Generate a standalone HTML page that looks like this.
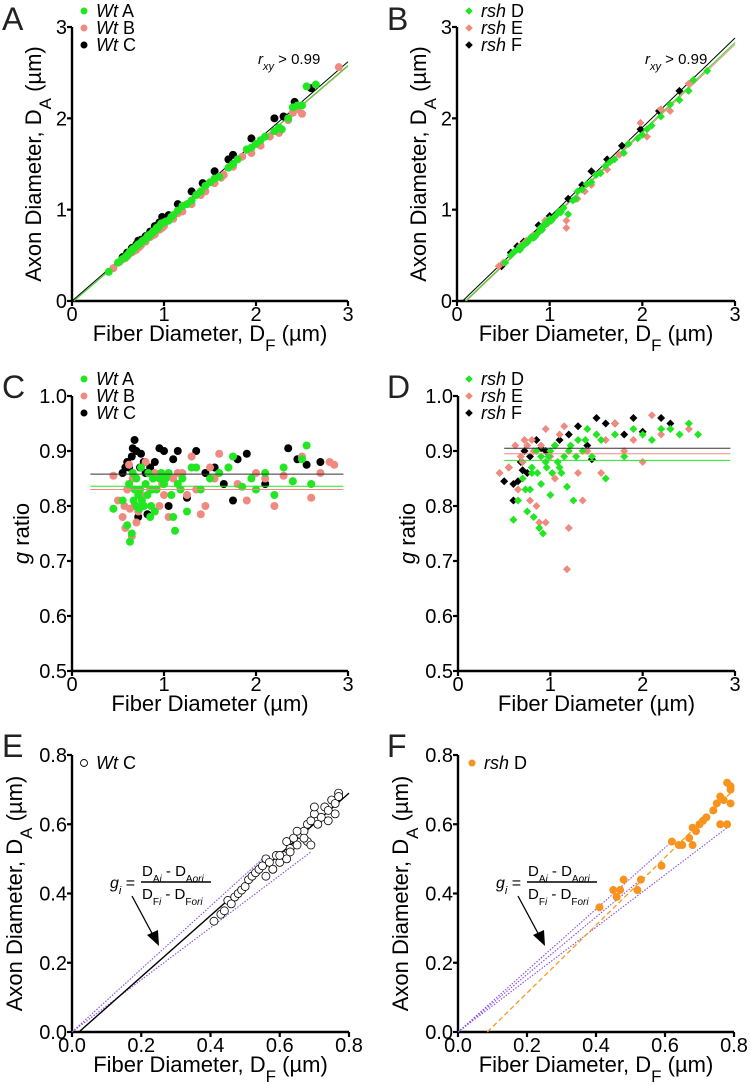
<!DOCTYPE html>
<html><head><meta charset="utf-8">
<style>
html,body{margin:0;padding:0;background:#fff;}
svg{display:block;font-family:"Liberation Sans",Arial,sans-serif;}
</style></head>
<body>
<svg id="fig" width="750" height="1085" viewBox="0 0 750 1085" xmlns="http://www.w3.org/2000/svg"></svg>
<script>
// ---------- Panel A data (Wt A/B/C) ----------
const aGreenX=[0.4,0.5,0.55,0.6,0.62,0.65,0.68,0.7,0.72,0.75,0.78,0.8,0.82,0.85,0.88,0.9,0.92,0.95,1.0,1.05,1.1,1.15,1.2,1.25,1.3,1.4,1.45,1.5,1.6,1.7,1.8,1.9,2.0,2.1,2.2,2.25,2.35,2.4,2.45,2.55,2.65,0.66,0.74,0.83,0.97,0.58,0.63,0.71,0.77,0.87,0.93,1.02,1.08,1.35,1.55,1.75,1.95,2.05,2.28,2.5];
const aGreenY=[0.32,0.42,0.46,0.5,0.52,0.55,0.58,0.6,0.62,0.64,0.66,0.68,0.71,0.73,0.76,0.77,0.8,0.82,0.86,0.88,0.94,0.99,1.04,1.06,1.1,1.2,1.26,1.3,1.36,1.46,1.55,1.66,1.72,1.8,1.86,1.9,2.0,2.12,2.14,2.35,2.37,0.57,0.63,0.7,0.85,0.48,0.54,0.61,0.66,0.74,0.79,0.87,0.92,1.16,1.34,1.5,1.68,1.76,1.88,2.14];
const aPinkX=[0.45,0.52,0.6,0.65,0.7,0.75,0.8,0.85,0.9,0.95,1.0,1.05,1.1,1.2,1.3,1.4,1.45,1.55,1.65,1.75,1.85,1.95,2.05,2.15,2.25,2.35,2.45,2.5,2.9,0.58,0.68,0.88,0.73,0.98,1.15,1.62,2.4];
const aPinkY=[0.36,0.43,0.49,0.53,0.56,0.61,0.65,0.7,0.73,0.78,0.82,0.88,0.9,0.98,1.06,1.16,1.2,1.29,1.38,1.47,1.58,1.62,1.7,1.8,1.84,1.98,2.1,2.05,2.56,0.47,0.55,0.72,0.59,0.8,0.96,1.35,2.06];
const aBlackX=[0.55,0.6,0.65,0.7,0.75,0.8,0.85,0.9,0.95,1.05,1.15,1.3,1.42,1.55,1.7,1.75,1.95,2.2,2.3,2.42,2.6,0.72,0.98];
const aBlackY=[0.48,0.53,0.58,0.62,0.67,0.71,0.76,0.82,0.86,0.94,1.06,1.2,1.29,1.42,1.55,1.6,1.78,2.0,2.02,2.18,2.33,0.66,0.92];
// ---------- Panel B data (rsh D/E/F) ----------
const bGreenX=[0.52,0.58,0.62,0.66,0.7,0.74,0.78,0.8,0.82,0.85,0.88,0.9,0.93,0.95,0.98,1.0,1.05,1.1,1.15,1.2,1.25,1.3,1.35,1.4,1.5,1.55,1.6,1.7,1.8,1.85,1.95,2.05,2.1,2.2,2.3,2.4,2.5,2.55,2.7,0.76,0.96,1.08,0.68,0.72,0.84,0.87,0.92,1.02,1.12,1.28,1.45,1.65,2.0];
const bGreenY=[0.42,0.5,0.54,0.57,0.6,0.63,0.67,0.7,0.69,0.72,0.75,0.8,0.82,0.85,0.86,0.9,0.92,0.98,1.02,0.95,1.1,1.2,1.22,1.28,1.38,1.4,1.48,1.55,1.62,1.72,1.78,1.88,1.92,2.02,2.15,2.2,2.3,2.42,2.52,0.64,0.84,0.95,0.56,0.61,0.7,0.74,0.78,0.88,0.97,1.12,1.3,1.52,1.82];
const bPinkX=[0.45,0.5,0.6,0.68,0.75,0.82,0.9,0.98,1.05,1.12,1.18,1.18,1.3,1.38,1.45,1.55,1.62,1.75,1.85,1.98,2.05,2.2,2.3,2.5,0.72,0.95];
const bPinkY=[0.38,0.42,0.52,0.6,0.66,0.72,0.78,0.85,0.92,0.98,0.88,0.8,1.12,1.2,1.27,1.4,1.44,1.6,1.72,1.95,1.8,2.1,2.08,2.38,0.63,0.88];
const bBlackX=[0.48,0.58,0.72,0.88,1.0,1.2,1.35,1.45,1.62,1.78,1.98,2.18,2.4,0.65];
const bBlackY=[0.38,0.53,0.65,0.83,0.93,1.12,1.27,1.42,1.55,1.7,1.88,2.08,2.3,0.6];
// ---------- Panel C data (g ratio, Wt) ----------
const cGreenX=[0.45,0.55,0.6,0.63,0.65,0.68,0.7,0.72,0.75,0.78,0.8,0.83,0.85,0.88,0.9,0.92,0.95,1.0,1.05,1.08,1.1,1.15,1.2,1.25,1.3,1.35,1.4,1.5,1.6,1.7,1.75,1.85,1.95,2.0,2.1,2.2,2.3,2.4,2.5,2.55,2.6,0.67,0.73,0.87,1.12,0.62,0.66,0.7,0.74,0.76,0.82,0.86,0.97,1.02,1.18];
const cGreenY=[0.795,0.81,0.765,0.735,0.75,0.83,0.85,0.82,0.87,0.80,0.84,0.86,0.78,0.85,0.79,0.83,0.85,0.84,0.86,0.82,0.78,0.84,0.85,0.79,0.87,0.87,0.83,0.85,0.86,0.87,0.89,0.835,0.85,0.83,0.86,0.82,0.87,0.845,0.885,0.91,0.84,0.81,0.795,0.83,0.755,0.84,0.86,0.80,0.83,0.81,0.82,0.80,0.86,0.85,0.83];
const cPinkX=[0.45,0.5,0.55,0.58,0.6,0.62,0.65,0.68,0.7,0.75,0.8,0.85,0.9,0.95,1.0,1.05,1.1,1.2,1.25,1.3,1.4,1.45,1.5,1.55,1.6,1.7,1.8,1.9,2.0,2.1,2.2,2.3,2.4,2.5,2.6,2.7,2.8,2.85,0.63,0.78,1.35,0.57,0.66,0.72,0.98,1.15];
const cPinkY=[0.855,0.81,0.78,0.76,0.83,0.875,0.745,0.80,0.77,0.82,0.88,0.83,0.86,0.80,0.82,0.78,0.85,0.86,0.82,0.89,0.785,0.80,0.87,0.85,0.895,0.87,0.84,0.81,0.86,0.85,0.80,0.855,0.845,0.89,0.815,0.86,0.88,0.875,0.795,0.80,0.83,0.80,0.85,0.79,0.84,0.86];
const cBlackX=[0.55,0.6,0.65,0.68,0.7,0.72,0.75,0.78,0.8,0.85,0.9,0.95,1.0,1.05,1.1,1.15,1.25,1.35,1.45,1.55,1.65,1.75,1.8,1.9,2.1,2.35,2.45,2.55,2.7,0.62,0.82,0.58,0.66,0.74];
const cBlackY=[0.86,0.88,0.89,0.92,0.90,0.78,0.895,0.88,0.86,0.87,0.88,0.905,0.90,0.80,0.885,0.90,0.815,0.90,0.86,0.87,0.84,0.81,0.885,0.895,0.84,0.905,0.885,0.875,0.88,0.87,0.785,0.87,0.905,0.87];
// ---------- Panel D data (g ratio, rsh) ----------
const dGreenX=[0.6,0.65,0.7,0.75,0.78,0.8,0.82,0.85,0.88,0.9,0.92,0.95,0.98,1.0,1.02,1.05,1.1,1.15,1.2,1.25,1.3,1.35,1.4,1.45,1.5,1.55,1.6,1.7,1.8,1.9,2.0,2.1,2.2,2.3,2.4,2.5,2.6,1.18,1.12,0.73,0.8,0.86,0.9,0.96,1.0,1.08,1.22,1.28,1.38];
const dGreenY=[0.775,0.81,0.85,0.79,0.83,0.86,0.78,0.90,0.76,0.84,0.75,0.88,0.89,0.82,0.86,0.91,0.87,0.89,0.90,0.81,0.92,0.90,0.94,0.89,0.93,0.92,0.85,0.93,0.89,0.94,0.93,0.92,0.94,0.94,0.93,0.95,0.93,0.835,0.86,0.83,0.87,0.86,0.89,0.87,0.90,0.88,0.91,0.89,0.92];
const dPinkX=[0.45,0.55,0.6,0.65,0.7,0.72,0.78,0.82,0.85,0.9,0.95,1.0,1.05,1.1,1.15,1.18,1.2,1.3,1.35,1.4,1.5,1.55,1.6,1.7,1.8,1.9,2.0,2.1,2.2,2.3,2.5,0.62,0.88,0.95,0.68,0.75,0.8];
const dPinkY=[0.86,0.87,0.775,0.83,0.88,0.92,0.81,0.90,0.80,0.91,0.77,0.89,0.85,0.93,0.945,0.685,0.76,0.86,0.81,0.90,0.93,0.86,0.92,0.95,0.90,0.92,0.88,0.965,0.93,0.94,0.94,0.91,0.77,0.94,0.89,0.91,0.92];
const dBlackX=[0.5,0.55,0.6,0.65,0.7,0.72,0.78,0.85,0.9,0.95,1.05,1.1,1.2,1.3,1.4,1.5,1.6,1.7,1.8,1.9,2.0,2.2,2.3,1.45,0.6,0.68,0.75];
const dBlackY=[0.845,0.87,0.81,0.845,0.865,0.90,0.89,0.92,0.905,0.90,0.91,0.92,0.93,0.945,0.91,0.96,0.95,0.95,0.93,0.96,0.935,0.96,0.95,0.885,0.84,0.88,0.86];
// ---------- Panel E / F data ----------
const eX=[0.41,0.43,0.44,0.45,0.46,0.47,0.48,0.49,0.5,0.51,0.52,0.53,0.54,0.55,0.56,0.56,0.57,0.58,0.59,0.6,0.61,0.62,0.62,0.63,0.64,0.65,0.66,0.67,0.68,0.68,0.69,0.69,0.7,0.71,0.72,0.73,0.74,0.75,0.76,0.76,0.77,0.77,0.6,0.65,0.7,0.74,0.58,0.63,0.67];
const eY=[0.32,0.34,0.35,0.38,0.37,0.39,0.40,0.41,0.42,0.44,0.45,0.46,0.47,0.48,0.45,0.50,0.49,0.47,0.51,0.49,0.51,0.50,0.55,0.53,0.56,0.54,0.57,0.58,0.60,0.55,0.61,0.54,0.63,0.60,0.62,0.65,0.64,0.67,0.66,0.63,0.69,0.68,0.51,0.58,0.65,0.61,0.47,0.52,0.56];
const fX=[0.41,0.45,0.46,0.47,0.48,0.52,0.53,0.59,0.62,0.64,0.65,0.67,0.68,0.68,0.69,0.7,0.71,0.72,0.74,0.75,0.76,0.77,0.76,0.78,0.78,0.79,0.79,0.79];
const fY=[0.36,0.41,0.39,0.41,0.44,0.41,0.44,0.48,0.55,0.54,0.54,0.56,0.54,0.59,0.58,0.6,0.61,0.62,0.64,0.66,0.68,0.67,0.6,0.72,0.6,0.71,0.7,0.66];

const svg=document.getElementById('fig');
const NS='http://www.w3.org/2000/svg';
function el(tag,attrs,parent){const e=document.createElementNS(NS,tag);for(const k in attrs)e.setAttribute(k,attrs[k]);(parent||svg).appendChild(e);return e;}

function panel(p){
  const g=el('g',{});
  
  
  const sx=v=>p.x0+(v-p.xmin)/(p.xmax-p.xmin)*p.w;
  const sy=v=>p.y0-(v-p.ymin)/(p.ymax-p.ymin)*p.h;
  p.sx=sx;p.sy=sy;p.g=g;
  const ax=el('line',{x1:p.x0,y1:p.y0,x2:p.x0+p.w,y2:p.y0,stroke:'#000','stroke-width':2.4},g);
  
  
  const ay=el('line',{x1:p.x0,y1:p.y0+1,x2:p.x0,y2:p.y0-p.h,stroke:'#000','stroke-width':2.4},g);
  
  
  p.xt.forEach(t=>{
    el('line',{x1:sx(t),y1:p.y0,x2:sx(t),y2:p.y0+5,stroke:'#000','stroke-width':2.2},g);
    const tx=el('text',{x:sx(t),y:p.y0+20,'font-size':20,'text-anchor':'middle'},g);
    tx.textContent=p.xf(t);
    
    
  });
  p.yt.forEach(t=>{
    el('line',{x1:p.x0-5,y1:sy(t),x2:p.x0,y2:sy(t),stroke:'#000','stroke-width':2.2},g);
    const tx=el('text',{x:p.x0-5,y:sy(t)+7,'font-size':20,'text-anchor':'end'},g);
    tx.textContent=p.yf(t);
    
    
  });
  const L=el('text',{x:p.lx,y:p.ly,'font-size':32,fill:'#222'},g);
  L.textContent=p.letter;
  
  
  const xt=el('text',{x:p.x0+p.w/2,y:p.y0+p.xty,'font-size':22,'text-anchor':'middle'},g);
  xt.innerHTML=p.xtitle;
  
  
  const yt=el('text',{x:0,y:0,'font-size':22,'text-anchor':'middle',transform:`translate(${p.x0-p.ytx},${p.y0-p.h/2}) rotate(-90)`},g);
  yt.innerHTML=p.ytitle;
  
  
  return p;
}
function marker(p,x,y,color,shape,r){
  let m;
  if(shape==='d'){
    const cx=p.sx(x),cy=p.sy(y);
    m=el('polygon',{points:`${cx},${cy-r} ${cx+r},${cy} ${cx},${cy+r} ${cx-r},${cy}`,fill:color},p.g);
  }else if(shape==='o'){
    m=el('circle',{cx:p.sx(x),cy:p.sy(y),r:r,fill:'#fff',stroke:'#000','stroke-width':0.8},p.g);
  }else{
    m=el('circle',{cx:p.sx(x),cy:p.sy(y),r:r,fill:color},p.g);
  }
  return m;
}
function series(p,xs,ys,color,shape,r,name){
  xs.forEach((x,i)=>{
    const m=marker(p,x,ys[i],color,shape,r);
    
    
  });
}
function line(p,x1,y1,x2,y2,color,w,dash,name){
  const l=el('line',{x1:p.sx(x1),y1:p.sy(y1),x2:p.sx(x2),y2:p.sy(y2),stroke:color,'stroke-width':w},p.g);
  if(dash)l.setAttribute('stroke-dasharray',dash);
  
  
}
function legend(p,x,y,items,shape,r){
  items.forEach((it,i)=>{
    const yy=y+i*17;
    let m;
    if(shape==='d')m=el('polygon',{points:`${x},${yy-r} ${x+r},${yy} ${x},${yy+r} ${x-r},${yy}`,fill:it[0]},p.g);
    else if(shape==='o')m=el('circle',{cx:x,cy:yy,r:r,fill:'#fff',stroke:'#000','stroke-width':0.9},p.g);
    else m=el('circle',{cx:x,cy:yy,r:r,fill:it[0]},p.g);
    
    
    const t=el('text',{x:x+12,y:yy+6,'font-size':18},p.g);
    t.innerHTML=it[1];
    
    
  });
}
const GR='#22e622',PK='#f08a80',BK='#000';
const f0=v=>String(v), f1=v=>v.toFixed(1);
const DAt='Axon Diameter, D<tspan baseline-shift="sub" font-size="17">A</tspan> (µm)';
const DFt='Fiber Diameter, D<tspan baseline-shift="sub" font-size="17">F</tspan> (µm)';
const gT='<tspan font-style="italic">g</tspan> ratio';
const R=4;

// Panel A
const A=panel({name:'panel-a',letter:'A',lx:2,ly:30,x0:72,y0:301,w:276,h:274,xmin:0,xmax:3,ymin:0,ymax:3,xt:[0,1,2,3],yt:[0,1,2,3],xf:f0,yf:f0,xtitle:DFt,ytitle:DAt,xty:40,ytx:31});
line(A,0.02,0,3,2.57,PK,1,null,'fit-line-b');
line(A,0.02,0,3,2.58,GR,1,null,'fit-line-a');
line(A,0,0,3,2.62,BK,1,null,'fit-line-c');
series(A,aBlackX,aBlackY,BK,'c',R,'point-wt-c');
series(A,aPinkX,aPinkY,PK,'c',R,'point-wt-b');
series(A,aGreenX,aGreenY,GR,'c',R,'point-wt-a');
legend(A,84,11,[[GR,'<tspan font-style="italic">Wt</tspan> A'],[PK,'<tspan font-style="italic">Wt</tspan> B'],[BK,'<tspan font-style="italic">Wt</tspan> C']],'c',3.5);
let r=el('text',{x:258,y:64,'font-size':15},A.g);r.innerHTML='<tspan font-style="italic">r</tspan><tspan font-style="italic" baseline-shift="sub" font-size="11">xy</tspan> &gt; 0.99';


// Panel B
const B=panel({name:'panel-b',letter:'B',lx:387,ly:30,x0:457,y0:301,w:278,h:274,xmin:0,xmax:3,ymin:0,ymax:3,xt:[0,1,2,3],yt:[0,1,2,3],xf:f0,yf:f0,xtitle:DFt,ytitle:DAt,xty:40,ytx:31});
line(B,0.1,0,3,2.81,PK,1,null,'fit-line-e');
line(B,0.09,0,3,2.83,GR,1,null,'fit-line-d');
line(B,0.06,0,3,2.88,BK,1,null,'fit-line-f');
series(B,bBlackX,bBlackY,BK,'d',R,'point-rsh-f');
series(B,bPinkX,bPinkY,PK,'d',R,'point-rsh-e');
series(B,bGreenX,bGreenY,GR,'d',R,'point-rsh-d');
legend(B,469,11,[[GR,'<tspan font-style="italic">rsh</tspan> D'],[PK,'<tspan font-style="italic">rsh</tspan> E'],[BK,'<tspan font-style="italic">rsh</tspan> F']],'d',3.8);
r=el('text',{x:645,y:64,'font-size':15},B.g);r.innerHTML='<tspan font-style="italic">r</tspan><tspan font-style="italic" baseline-shift="sub" font-size="11">xy</tspan> &gt; 0.99';


// Panel C
const C=panel({name:'panel-c',letter:'C',lx:2,ly:398,x0:72,y0:671,w:276,h:275,xmin:0,xmax:3,ymin:0.5,ymax:1.0,xt:[0,1,2,3],yt:[0.5,0.6,0.7,0.8,0.9,1.0],xf:f0,yf:f1,xtitle:'Fiber Diameter (µm)',ytitle:gT,xty:40,ytx:43});
series(C,cBlackX,cBlackY,BK,'c',R,'point-wt-c');
series(C,cPinkX,cPinkY,PK,'c',R,'point-wt-b');
series(C,cGreenX,cGreenY,GR,'c',R,'point-wt-a');
line(C,0.2,0.858,2.95,0.858,'#333',1,null,'mean-line-c');
line(C,0.2,0.836,2.95,0.836,GR,1,null,'mean-line-a');
line(C,0.2,0.830,2.95,0.830,PK,1,null,'mean-line-b');
legend(C,84,379,[[GR,'<tspan font-style="italic">Wt</tspan> A'],[PK,'<tspan font-style="italic">Wt</tspan> B'],[BK,'<tspan font-style="italic">Wt</tspan> C']],'c',3.5);

// Panel D
const D=panel({name:'panel-d',letter:'D',lx:387,ly:398,x0:458,y0:671,w:277,h:275,xmin:0,xmax:3,ymin:0.5,ymax:1.0,xt:[0,1,2,3],yt:[0.5,0.6,0.7,0.8,0.9,1.0],xf:f0,yf:f1,xtitle:'Fiber Diameter (µm)',ytitle:gT,xty:40,ytx:43});
series(D,dBlackX,dBlackY,BK,'d',R,'point-rsh-f');
series(D,dPinkX,dPinkY,PK,'d',R,'point-rsh-e');
series(D,dGreenX,dGreenY,GR,'d',R,'point-rsh-d');
line(D,0.5,0.905,2.95,0.905,'#333',1,null,'mean-line-f');
line(D,0.5,0.895,2.95,0.895,PK,1,null,'mean-line-e');
line(D,0.5,0.883,2.95,0.883,GR,1,null,'mean-line-d');
legend(D,469,379,[[GR,'<tspan font-style="italic">rsh</tspan> D'],[PK,'<tspan font-style="italic">rsh</tspan> E'],[BK,'<tspan font-style="italic">rsh</tspan> F']],'d',3.8);

// Panel E
const E=panel({name:'panel-e',letter:'E',lx:2,ly:757,x0:72,y0:1032,w:277,h:277,xmin:0,xmax:0.8,ymin:0,ymax:0.8,xt:[0,0.2,0.4,0.6,0.8],yt:[0,0.2,0.4,0.6,0.8],xf:f1,yf:f1,xtitle:DFt,ytitle:DAt,xty:40,ytx:50});
line(E,0,0,0.55,0.5,'#8a4de8',1.1,'1.5,1.5','slope-line-upper');
line(E,0,0,0.69,0.52,'#8a4de8',1.1,'1.5,1.5','slope-line-lower');
line(E,0.02,0,0.8,0.69,BK,1.4,null,'fit-line');
series(E,eX,eY,BK,'o',4,'point-wt-c');
legend(E,84,763,[[BK,'<tspan font-style="italic">Wt</tspan> C']],'o',3.5);

// Panel F
const F=panel({name:'panel-f',letter:'F',lx:387,ly:757,x0:458,y0:1032,w:276,h:277,xmin:0,xmax:0.8,ymin:0,ymax:0.8,xt:[0,0.2,0.4,0.6,0.8],yt:[0,0.2,0.4,0.6,0.8],xf:f1,yf:f1,xtitle:DFt,ytitle:DAt,xty:40,ytx:50});
line(F,0,0,0.62,0.55,'#8a4de8',1.1,'1.5,1.5','slope-line-1');
line(F,0,0,0.53,0.44,'#8a4de8',1.1,'1.5,1.5','slope-line-2');
line(F,0,0,0.78,0.59,'#8a4de8',1.1,'1.5,1.5','slope-line-3');
line(F,0.085,0,0.8,0.7,'#f39c1e',1.3,'5,3','fit-line');
series(F,fX,fY,'#f7941d','c',R,'point-rsh-d');
legend(F,472,763,[['#f7941d','<tspan font-style="italic">rsh</tspan> D']],'c',3.5);

function formula(p,x,y,name){
  const g=el('g',{},p.g);
  
  
  const t1=el('text',{x:x,y:y+6,'font-size':16},g);t1.innerHTML='<tspan font-style="italic">g</tspan><tspan font-style="italic" baseline-shift="sub" font-size="11">i</tspan> =';
  el('line',{x1:x+31,y1:y,x2:x+101,y2:y,stroke:'#000','stroke-width':1.4},g);
  const n=el('text',{x:x+32,y:y-6,'font-size':15},g);n.innerHTML='D<tspan baseline-shift="sub" font-size="10">A<tspan font-style="italic">i</tspan></tspan> - D<tspan baseline-shift="sub" font-size="10">A<tspan font-style="italic">ori</tspan></tspan>';
  const d=el('text',{x:x+32,y:y+17,'font-size':15},g);d.innerHTML='D<tspan baseline-shift="sub" font-size="10">F<tspan font-style="italic">i</tspan></tspan> - D<tspan baseline-shift="sub" font-size="10">F<tspan font-style="italic">ori</tspan></tspan>';
  el('line',{x1:x+22,y1:y+14,x2:x+44,y2:y+55,stroke:'#000','stroke-width':1.3},g);
  el('polygon',{points:`${x+49},${y+64} ${x+37},${y+53} ${x+48},${y+48}`,fill:'#000'},g);
}
formula(E,110,882,'g-ratio-formula');
formula(F,496,882,'g-ratio-formula');
</script>
</body></html>
